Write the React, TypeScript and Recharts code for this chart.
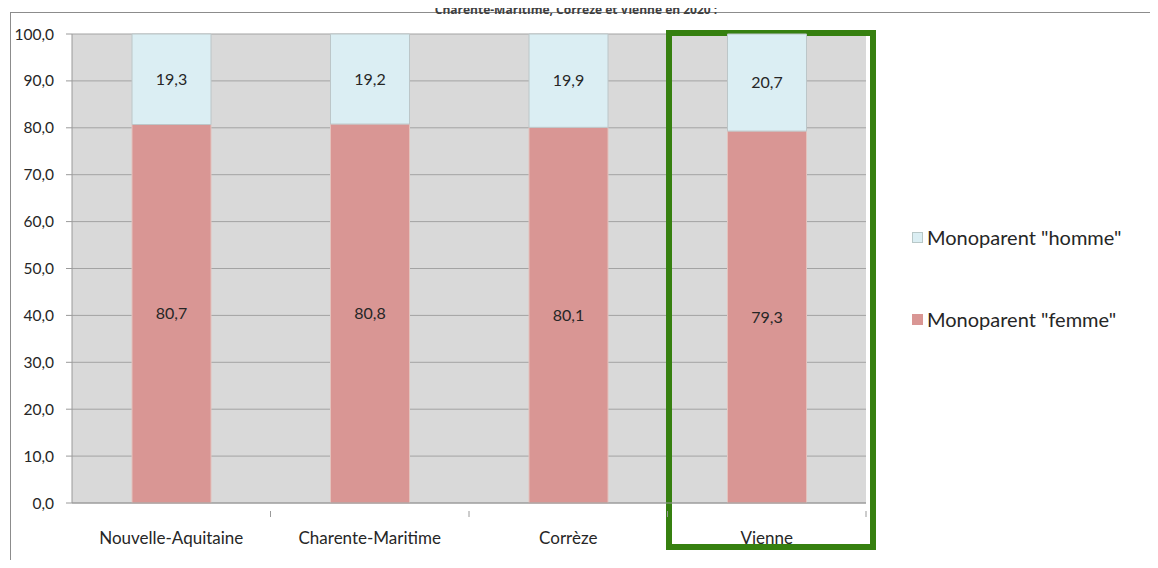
import React from 'react';
import {
  BarChart,
  Bar,
  XAxis,
  YAxis,
  CartesianGrid,
  LabelList,
  ReferenceArea,
} from 'recharts';

const categories = ['Nouvelle-Aquitaine', 'Charente-Maritime', 'Corrèze', 'Vienne'];
const femmeValues = [80.7, 80.8, 80.1, 79.3];
const hommeValues = [19.3, 19.2, 19.9, 20.7];
const yTicks = [0, 10, 20, 30, 40, 50, 60, 70, 80, 90, 100];
const seriesNames = { homme: 'Monoparent "homme"', femme: 'Monoparent "femme"' };
const highlighted = 'Vienne';
const titleLine = 'Charente-Maritime, Corrèze et Vienne en 2020 :';

const WIDTH = 1158;
const HEIGHT = 568;
const MARGIN = { top: 34, right: 292, bottom: 25, left: 12 };
const Y_AXIS_WIDTH = 60;
const X_AXIS_HEIGHT = 40;
const FONT = 'Lato, "Open Sans", sans-serif';

const COLORS = {
  femme: '#d99694',
  homme: '#dbeef3',
  plot: '#d9d9d9',
  grid: '#a3a3a3',
  axis: '#9a9a9a',
  frame: '#8c8c8c',
  text: '#262626',
  highlight: '#368010',
};

const data = categories.map((name, i) => ({
  name,
  femme: femmeValues[i],
  homme: hommeValues[i],
}));

const fmt = (v: any) => Number(v).toFixed(1).replace('.', ',');

const plotWidth = WIDTH - MARGIN.left - MARGIN.right - Y_AXIS_WIDTH;
const band = plotWidth / categories.length;

// category label plus the small tick marks that sit on the band boundaries
const CategoryTick = (props: any) => {
  const { x, y, payload, index } = props;
  const last = index === categories.length - 1;
  return (
    <g>
      {index > 0 && (
        <line x1={x - band / 2} x2={x - band / 2} y1={y} y2={y + 6} stroke={COLORS.axis} />
      )}
      {last && <line x1={x + band / 2} x2={x + band / 2} y1={y} y2={y + 6} stroke={COLORS.axis} />}
      <text
        x={x}
        y={y + 27}
        dy="0.35em"
        textAnchor="middle"
        fontSize={17}
        fontFamily={FONT}
        fill={COLORS.text}
      >
        {payload.value}
      </text>
    </g>
  );
};

// green frame around the highlighted category, reaching below the axis labels
const HighlightBox = (props: any) => {
  const { x, y, width, height } = props;
  return (
    <rect
      x={x + 1.5}
      y={y - 1}
      width={width + 5.5}
      height={height + 45}
      fill="none"
      stroke={COLORS.highlight}
      strokeWidth={6}
    />
  );
};

const LegendBlock = () => {
  const items = [
    { key: 'homme', label: seriesNames.homme, color: COLORS.homme, border: '#b8c8c8' },
    { key: 'femme', label: seriesNames.femme, color: COLORS.femme, border: '#d99694' },
  ];
  return (
    <div style={{ position: 'absolute', left: 912, top: 223, fontFamily: FONT }}>
      {items.map((it, i) => (
        <div
          key={it.key}
          style={{ display: 'flex', alignItems: 'center', marginTop: i === 0 ? 0 : 54, height: 28 }}
        >
          <span
            style={{
              width: 11,
              height: 11,
              background: it.color,
              border: `1px solid ${it.border}`,
              boxSizing: 'border-box',
              marginRight: 4,
            }}
          />
          <span style={{ fontSize: 20, color: COLORS.text, whiteSpace: 'nowrap' }}>{it.label}</span>
        </div>
      ))}
    </div>
  );
};

export default function App() {
  return (
    <div
      style={{
        position: 'relative',
        width: WIDTH,
        height: HEIGHT,
        margin: -8,
        overflow: 'hidden',
        background: '#ffffff',
      }}
    >
      <div
        style={{
          position: 'absolute',
          left: 10,
          top: 12,
          width: WIDTH,
          height: HEIGHT,
          borderTop: `1px solid ${COLORS.frame}`,
          borderLeft: `1px solid ${COLORS.frame}`,
        }}
      />
      <div
        style={{
          position: 'absolute',
          left: 0,
          top: 4,
          width: 1152,
          textAlign: 'center',
          fontFamily: '"Open Sans", sans-serif',
          fontWeight: 700,
          fontSize: 12,
          lineHeight: '12px',
          color: '#404040',
        }}
      >
        {titleLine}
      </div>
      <div style={{ position: 'absolute', left: 0, top: 0 }}>
        <BarChart width={WIDTH} height={HEIGHT} data={data} margin={MARGIN}>
          <CartesianGrid
            vertical={false}
            fill={COLORS.plot}
            stroke={COLORS.grid}
            strokeWidth={1}
          />
          <XAxis
            dataKey="name"
            height={X_AXIS_HEIGHT}
            axisLine={{ stroke: COLORS.axis }}
            tickLine={false}
            interval={0}
            tick={<CategoryTick />}
          />
          <YAxis
            width={Y_AXIS_WIDTH}
            domain={[0, 100]}
            ticks={yTicks}
            interval={0}
            tickFormatter={fmt}
            axisLine={{ stroke: COLORS.axis }}
            tickLine={{ stroke: COLORS.axis }}
            tickSize={6}
            tickMargin={12}
            tick={{ fontSize: 15.5, fontFamily: FONT, fill: COLORS.text }}
          />
          <Bar
            dataKey="femme"
            stackId="a"
            fill={COLORS.femme}
            stroke="#e3c2bd"
            strokeWidth={1}
            barSize={79}
            isAnimationActive={false}
          >
            <LabelList
              dataKey="femme"
              position="center"
              formatter={fmt}
              style={{ fontSize: 16, fontFamily: FONT, fill: COLORS.text }}
            />
          </Bar>
          <Bar
            dataKey="homme"
            stackId="a"
            fill={COLORS.homme}
            stroke="#bcc6c8"
            strokeWidth={1}
            barSize={79}
            isAnimationActive={false}
          >
            <LabelList
              dataKey="homme"
              position="center"
              formatter={fmt}
              style={{ fontSize: 16, fontFamily: FONT, fill: COLORS.text }}
            />
          </Bar>
          <ReferenceArea
            x1={highlighted}
            x2={highlighted}
            y1={0}
            y2={100}
            ifOverflow="visible"
            shape={<HighlightBox />}
          />
        </BarChart>
      </div>
      <LegendBlock />
    </div>
  );
}
